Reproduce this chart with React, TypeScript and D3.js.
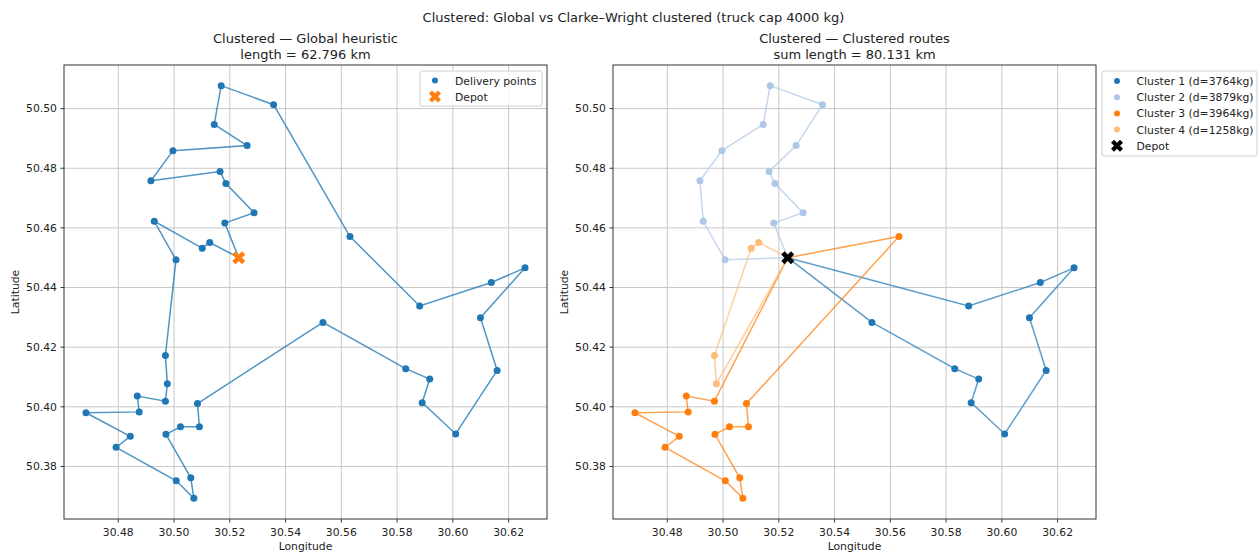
import React from "react";
import * as d3 from "d3";

// ---- data ----
const lon = [30.5169, 30.5357, 30.5144, 30.5262, 30.4996, 30.4917, 30.5165, 30.5186, 30.5287, 30.5182,
  30.5128, 30.5101, 30.4929, 30.5007, 30.5631, 30.4969, 30.4976, 30.4969, 30.4868, 30.4875,
  30.4684, 30.4843, 30.4792, 30.5008, 30.5071, 30.5060, 30.4971, 30.5023, 30.5091, 30.5084,
  30.5534, 30.5881, 30.6138, 30.6259, 30.6099, 30.6159, 30.6010, 30.5890, 30.5917, 30.5831];
const lat = [50.5077, 50.5013, 50.4947, 50.4876, 50.4859, 50.4758, 50.4789, 50.4749, 50.4651, 50.4616,
  50.4551, 50.4532, 50.4622, 50.4493, 50.4571, 50.4172, 50.4077, 50.4019, 50.4036, 50.3983,
  50.3980, 50.3901, 50.3864, 50.3752, 50.3693, 50.3762, 50.3908, 50.3933, 50.3933, 50.4011,
  50.4283, 50.4338, 50.4417, 50.4466, 50.4299, 50.4122, 50.3909, 50.4014, 50.4093, 50.4128];
const depot = { lon: 30.5232, lat: 50.4500 };

// routes use 1-based point ids, 0 = depot
const globalRoute = [0, 10, 9, 8, 7, 6, 5, 4, 3, 1, 2, 15, 32, 33, 34, 35, 36, 37, 38, 39, 40, 31,
  30, 29, 28, 27, 26, 25, 24, 23, 22, 21, 20, 19, 18, 17, 16, 14, 13, 12, 11, 0];
const cluster1 = [0, 31, 40, 39, 38, 37, 36, 35, 34, 33, 32, 0];
const cluster2 = [0, 10, 9, 8, 7, 4, 2, 1, 3, 5, 6, 13, 14, 0];
const cluster3 = [0, 18, 19, 20, 21, 22, 23, 24, 25, 26, 27, 28, 29, 30, 15, 0];
const cluster4 = [0, 11, 12, 16, 17, 0];
const clusterRoutes = [cluster1, cluster2, cluster3, cluster4];
const clusterLabels = ["Cluster 1 (d=3764kg)", "Cluster 2 (d=3879kg)", "Cluster 3 (d=3964kg)", "Cluster 4 (d=1258kg)"];
const clusterColors = ["#1f77b4", "#aec7e8", "#ff7f0e", "#ffbb78"];

const xTicks = [30.48, 30.50, 30.52, 30.54, 30.56, 30.58, 30.60, 30.62];
const yTicks = [50.38, 50.40, 50.42, 50.44, 50.46, 50.48, 50.50];

const suptitle = "Clustered: Global vs Clarke\u2013Wright clustered (truck cap 4000 kg)";
const leftTitle = ["Clustered \u2014 Global heuristic", "length = 62.796 km"];
const rightTitle = ["Clustered \u2014 Clustered routes", "sum length = 80.131 km"];

// ---- layout ----
const W = 1258, H = 553;
const top = 65, bottom = 519;
const leftX = [64, 547];
const rightX = [613, 1096];
const FONT = "DejaVu Sans, Liberation Sans, sans-serif";
const TXT = "#222";
const FS = 10.8;
const TFS = 13;

function pad(ext: [number, number]): [number, number] {
  const r = ext[1] - ext[0];
  return [ext[0] - 0.05 * r, ext[1] + 0.05 * r];
}
const allLon = [...lon, depot.lon];
const allLat = [...lat, depot.lat];
const xDom = pad(d3.extent(allLon) as [number, number]);
const yDom = pad(d3.extent(allLat) as [number, number]);

function pt(id: number): [number, number] {
  return id === 0 ? [depot.lon, depot.lat] : [lon[id - 1], lat[id - 1]];
}

function xMarker(cx: number, cy: number, s: number) {
  const v = [[-0.25, -0.5], [0, -0.25], [0.25, -0.5], [0.5, -0.25], [0.25, 0], [0.5, 0.25],
    [0.25, 0.5], [0, 0.25], [-0.25, 0.5], [-0.5, 0.25], [-0.25, 0], [-0.5, -0.25]];
  return "M" + v.map(([a, b]) => `${cx + a * s},${cy + b * s}`).join("L") + "Z";
}

function Axes({ xr, title, children }: { xr: number[]; title: string[]; children: (x: any, y: any) => React.ReactNode }) {
  const x = d3.scaleLinear().domain(xDom).range(xr);
  const y = d3.scaleLinear().domain(yDom).range([bottom, top]);
  const cx = (xr[0] + xr[1]) / 2;
  const fmt = d3.format(".2f");
  return (
    <g>
      {xTicks.map((t) => (
        <line key={"gx" + t} x1={x(t)} x2={x(t)} y1={top} y2={bottom} stroke="#c8c8c8" strokeWidth={1} />
      ))}
      {yTicks.map((t) => (
        <line key={"gy" + t} x1={xr[0]} x2={xr[1]} y1={y(t)} y2={y(t)} stroke="#c8c8c8" strokeWidth={1} />
      ))}
      <defs>
        <clipPath id={"clip" + xr[0]}>
          <rect x={xr[0]} y={top} width={xr[1] - xr[0]} height={bottom - top} />
        </clipPath>
      </defs>
      <g clipPath={`url(#clip${xr[0]})`}>{children(x, y)}</g>
      <rect x={xr[0]} y={top} width={xr[1] - xr[0]} height={bottom - top} fill="none" stroke="#333" strokeWidth={1} />
      {xTicks.map((t) => (
        <g key={"tx" + t}>
          <line x1={x(t)} x2={x(t)} y1={bottom} y2={bottom + 3.5} stroke="#333" />
          <text x={x(t)} y={bottom + 16.5} textAnchor="middle" fontSize={FS} fontFamily={FONT} fill={TXT}>{fmt(t)}</text>
        </g>
      ))}
      {yTicks.map((t) => (
        <g key={"ty" + t}>
          <line x1={xr[0] - 3.5} x2={xr[0]} y1={y(t)} y2={y(t)} stroke="#333" />
          <text x={xr[0] - 7} y={y(t) + 3.9} textAnchor="end" fontSize={FS} fontFamily={FONT} fill={TXT}>{fmt(t)}</text>
        </g>
      ))}
      <text x={cx} y={550} textAnchor="middle" fontSize={FS} fontFamily={FONT} fill={TXT}>Longitude</text>
      <text transform={`translate(${xr[0] - 45.5},${(top + bottom) / 2}) rotate(-90)`} textAnchor="middle" fontSize={FS} fontFamily={FONT} fill={TXT}>Latitude</text>
      <text x={cx} y={42.5} textAnchor="middle" fontSize={TFS} fontFamily={FONT} fill={TXT}>{title[0]}</text>
      <text x={cx} y={58.5} textAnchor="middle" fontSize={TFS} fontFamily={FONT} fill={TXT}>{title[1]}</text>
    </g>
  );
}

export default function App() {
  const line = (x: any, y: any) => d3.line<number>().x((id) => x(pt(id)[0])).y((id) => y(pt(id)[1]));
  return (
    <svg width={W} height={H} style={{ position: "absolute", left: 0, top: 0, background: "#fff" }}>
      <rect width={W} height={H} fill="#fff" />
      <text x={633.5} y={21.5} textAnchor="middle" fontSize={TFS} fontFamily={FONT} fill={TXT}>{suptitle}</text>

      <Axes xr={leftX} title={leftTitle}>
        {(x, y) => (
          <g>
            <path d={line(x, y)(globalRoute) || ""} fill="none" stroke="#1f77b4" strokeOpacity={0.78} strokeWidth={1.5} />
            {lon.map((_, i) => (
              <circle key={i} cx={x(lon[i])} cy={y(lat[i])} r={3.5} fill="#1f77b4" />
            ))}
            <path d={xMarker(x(depot.lon), y(depot.lat), 13)} fill="#ff7f0e" />
          </g>
        )}
      </Axes>
      {/* left legend */}
      <g fontFamily={FONT} fontSize={FS} fill={TXT}>
        <rect x={420} y={71} width={122} height={35} rx={2} fill="#fff" fillOpacity={0.8} stroke="#d0d0d0" />
        <circle cx={435} cy={80.5} r={3} fill="#1f77b4" />
        <text x={455} y={84.5}>Delivery points</text>
        <path d={xMarker(435, 96.5, 12)} fill="#ff7f0e" />
        <text x={455} y={100.5}>Depot</text>
      </g>

      <Axes xr={rightX} title={rightTitle}>
        {(x, y) => (
          <g>
            {clusterRoutes.map((r, k) => (
              <g key={k}>
                <path d={line(x, y)(r) || ""} fill="none" stroke={clusterColors[k]} strokeOpacity={0.72} strokeWidth={1.5} />
                {r.filter((id) => id !== 0).map((id) => (
                  <circle key={id} cx={x(pt(id)[0])} cy={y(pt(id)[1])} r={3.5} fill={clusterColors[k]} />
                ))}
              </g>
            ))}
            <path d={xMarker(x(depot.lon), y(depot.lat), 13)} fill="#000" />
          </g>
        )}
      </Axes>
      {/* right legend */}
      <g fontFamily={FONT} fontSize={FS} fill={TXT}>
        <rect x={1102} y={71} width={155} height={85} rx={2} fill="#fff" fillOpacity={0.8} stroke="#d0d0d0" />
        {clusterLabels.map((lab, k) => (
          <g key={k}>
            <circle cx={1117} cy={81 + k * 16.2} r={3} fill={clusterColors[k]} />
            <text x={1136.5} y={85 + k * 16.2}>{lab}</text>
          </g>
        ))}
        <path d={xMarker(1117, 81 + 4 * 16.2, 12)} fill="#000" />
        <text x={1136.5} y={85 + 4 * 16.2}>Depot</text>
      </g>
    </svg>
  );
}
